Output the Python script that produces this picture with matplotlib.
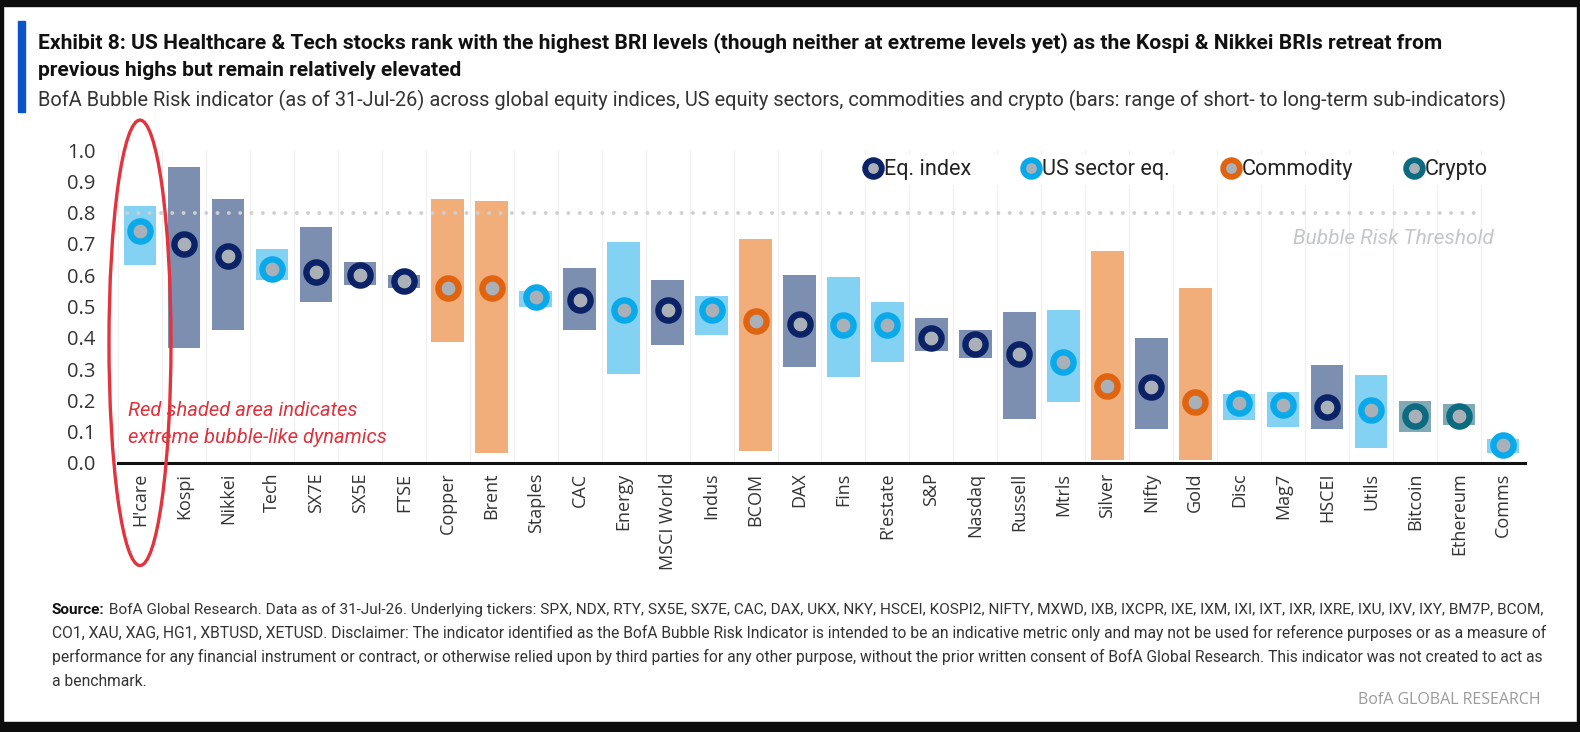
import numpy as np
import matplotlib
matplotlib.use("Agg")
import matplotlib.pyplot as plt
from matplotlib.patches import Ellipse, Rectangle
from matplotlib.lines import Line2D

# --- data ---
names = ["H'care", "Kospi", "Nikkei", "Tech", "SX7E", "SX5E", "FTSE", "Copper", "Brent",
         "Staples", "CAC", "Energy", "MSCI World", "Indus", "BCOM", "DAX", "Fins", "R'estate",
         "S&P", "Nasdaq", "Russell", "Mtrls", "Silver", "Nifty", "Gold", "Disc", "Mag7",
         "HSCEI", "Utils", "Bitcoin", "Ethereum", "Comms"]
kind = ["us", "eq", "eq", "us", "eq", "eq", "eq", "com", "com",
        "us", "eq", "us", "eq", "us", "com", "eq", "us", "us",
        "eq", "eq", "eq", "us", "com", "eq", "com", "us", "us",
        "eq", "us", "cry", "cry", "us"]
bri = [0.74, 0.70, 0.66, 0.62, 0.61, 0.60, 0.58, 0.56, 0.56,
       0.53, 0.52, 0.49, 0.49, 0.49, 0.455, 0.443, 0.44, 0.44,
       0.40, 0.379, 0.349, 0.323, 0.247, 0.242, 0.194, 0.192, 0.186,
       0.179, 0.17, 0.151, 0.149, 0.056]
lo = [0.634, 0.368, 0.426, 0.586, 0.515, 0.57, 0.559, 0.387, 0.031,
      0.50, 0.425, 0.285, 0.376, 0.408, 0.038, 0.307, 0.274, 0.322,
      0.357, 0.334, 0.139, 0.194, 0.01, 0.108, 0.01, 0.136, 0.115,
      0.108, 0.047, 0.10, 0.122, 0.033]
hi = [0.82, 0.945, 0.843, 0.684, 0.754, 0.642, 0.602, 0.844, 0.837,
      0.55, 0.624, 0.706, 0.584, 0.534, 0.716, 0.60, 0.595, 0.514,
      0.462, 0.424, 0.482, 0.49, 0.676, 0.398, 0.56, 0.222, 0.227,
      0.313, 0.28, 0.199, 0.189, 0.077]
threshold = 0.8

bar_col = {"eq": "#7d8fb1", "us": "#84d2f3", "com": "#f1ae7b", "cry": "#7fa9b6"}
dot_col = {"eq": "#0b2266", "us": "#0aaaea", "com": "#e0640f", "cry": "#0d6b80"}
labels = {"eq": "Eq. index", "us": "US sector eq.", "com": "Commodity", "cry": "Crypto"}

W, H = 1580, 732
fig = plt.figure(figsize=(W / 100, H / 100), dpi=100)
fig.patch.set_facecolor("white")
renderer = fig.canvas.get_renderer()

def fx(p):
    return p / W

def fy(p):
    return 1 - p / H

def fit(t, width_px):
    # shrink/grow a text so it spans the same width as in the source image
    w = t.get_window_extent(renderer).width
    t.set_fontsize(t.get_fontsize() * width_px / w)

narrow = ["Roboto", "DejaVu Sans"]
regular = ["Open Sans", "DejaVu Sans"]

# black frame from the screenshot
for (x0, y0, w, h) in [(0, 0, W, 6), (0, 0, 3, H), (W - 3, 0, 3, H), (0, 722, W, 10)]:
    fig.patches.append(Rectangle((fx(x0), fy(y0 + h)), w / W, h / H, transform=fig.transFigure,
                                 color="#0d0d0d", zorder=10))
fig.patches.append(Rectangle((fx(18), fy(112)), 7 / W, 91 / H, transform=fig.transFigure,
                             color="#0b54c8"))

t1 = fig.text(fx(38), fy(43), "Exhibit 8: US Healthcare & Tech stocks rank with the highest BRI levels "
              "(though neither at extreme levels yet) as the Kospi & Nikkei BRIs retreat from",
              family=narrow, fontweight="bold", fontsize=15, va="center", color="#111")
fit(t1, 1409)
fig.text(fx(38), fy(71), "previous highs but remain relatively elevated",
         family=narrow, fontweight="bold", fontsize=t1.get_fontsize(), va="center", color="#111")
t3 = fig.text(fx(38), fy(100), "BofA Bubble Risk indicator (as of 31-Jul-26) across global equity indices, "
              "US equity sectors, commodities and crypto (bars: range of short- to long-term sub-indicators)",
              family=narrow, fontsize=15, va="center", color="#333")
fit(t3, 1472)

ax = fig.add_axes([fx(118), fy(463), (1525 - 118) / W, (463 - 150) / H])
x = np.arange(len(names))
ax.set_xlim(-0.5, len(names) - 0.5)
ax.set_ylim(0, 1.0)

for b in np.arange(-0.5, len(names), 1.0):
    ax.plot([b, b], [0, 1.0], color="#f0f0f0", lw=0.9, zorder=0)

ax.bar(x, np.array(hi) - np.array(lo), bottom=lo, width=0.74,
       color=[bar_col[k] for k in kind], zorder=2)
ax.plot([-0.3, 30.6], [threshold, threshold], color="#cfcfcf", lw=2.8,
        linestyle=(0, (0.01, 2.9)), dash_capstyle="round", zorder=3)
for k in bar_col:
    idx = [i for i, kk in enumerate(kind) if kk == k]
    ax.plot(x[idx], [bri[i] for i in idx], "o", ms=14.5, mew=4.6,
            mec=dot_col[k], mfc="#a9b0b8", zorder=4)

ax.set_yticks(np.arange(0, 1.01, 0.1))
ax.set_yticklabels([f"{v:.1f}" for v in np.arange(0, 1.01, 0.1)])
ax.set_xticks(x)
ax.set_xticklabels(names, rotation=90)
ax.tick_params(length=0, colors="#333")
ax.tick_params(axis="y", labelsize=14.5, pad=16)
ax.tick_params(axis="x", labelsize=13, pad=7)
for t in ax.get_xticklabels() + ax.get_yticklabels():
    t.set_family(regular)
for s in ["top", "right", "left"]:
    ax.spines[s].set_visible(False)
ax.spines["bottom"].set_linewidth(2.2)
ax.spines["bottom"].set_color("#111")

ax.text(30.8, 0.716, "Bubble Risk Threshold", ha="right", va="center", fontsize=15,
        style="italic", color="#c3c6ca", family=narrow)
ax.text(-0.27, 0.167, "Red shaded area indicates", ha="left", va="center", fontsize=14.5,
        style="italic", color="#e0313d", family=narrow, zorder=6)
ax.text(-0.27, 0.08, "extreme bubble-like dynamics", ha="left", va="center", fontsize=14.5,
        style="italic", color="#e0313d", family=narrow, zorder=6)
ax.add_patch(Ellipse((0, 0.384), 1.41, 1.423, fill=False, ec="#e4333d", lw=2.4,
                     clip_on=False, zorder=7))

order = ["eq", "us", "com", "cry"]
handles = [Line2D([], [], marker="o", ls="", ms=12, mew=4.2, mec=dot_col[k], mfc="#a9b0b8")
           for k in order]
leg = fig.legend(handles, [labels[k] for k in order], ncol=4,
                 loc="center right", bbox_to_anchor=(fx(1492), fy(170)),
                 frameon=True, framealpha=1, edgecolor="none", facecolor="white",
                 handletextpad=-0.1, columnspacing=2.2, handlelength=1.2,
                 prop={"family": narrow, "size": 15.6}, borderpad=0.2, borderaxespad=0)
for t in leg.get_texts():
    t.set_color("#222")

# footer
foot = [
    ("BofA Global Research. Data as of 31-Jul-26. Underlying tickers: SPX, NDX, RTY, SX5E, SX7E, CAC, DAX, "
     "UKX, NKY, HSCEI, KOSPI2, NIFTY, MXWD, IXB, IXCPR, IXE, IXM, IXI, IXT, IXR, IXRE, IXU, IXV, IXY, BM7P, BCOM,"),
    ("CO1, XAU, XAG, HG1, XBTUSD, XETUSD. Disclaimer: The indicator identified as the BofA Bubble Risk Indicator "
     "is intended to be an indicative metric only and may not be used for reference purposes or as a measure of"),
    ("performance for any financial instrument or contract, or otherwise relied upon by third parties for any "
     "other purpose, without the prior written consent of BofA Global Research. This indicator was not created to act as"),
    "a benchmark.",
]
probe = fig.text(fx(52), fy(638), foot[1], family=narrow, fontsize=11, va="baseline", color="#333")
fit(probe, 1491)
fs = probe.get_fontsize()
probe.remove()
src = fig.text(fx(52), fy(614), "Source:", family=narrow, fontweight="bold", fontsize=fs * 0.98,
               va="baseline", color="#111")
ax.annotate(" " + foot[0], xy=(1, 0), xycoords=src, va="bottom", ha="left",
            family=narrow, fontsize=fs * 0.98, color="#333", annotation_clip=False)
for i, line in enumerate(foot[1:]):
    fig.text(fx(52), fy(638 + 24 * i), line, family=narrow, fontsize=fs, va="baseline", color="#333")
fig.text(fx(1541), fy(700), "BofA GLOBAL RESEARCH", family=regular, fontsize=11.5, ha="right",
         va="center", color="#9a9a9a")

fig.savefig("out.png", dpi=100, facecolor="white")
